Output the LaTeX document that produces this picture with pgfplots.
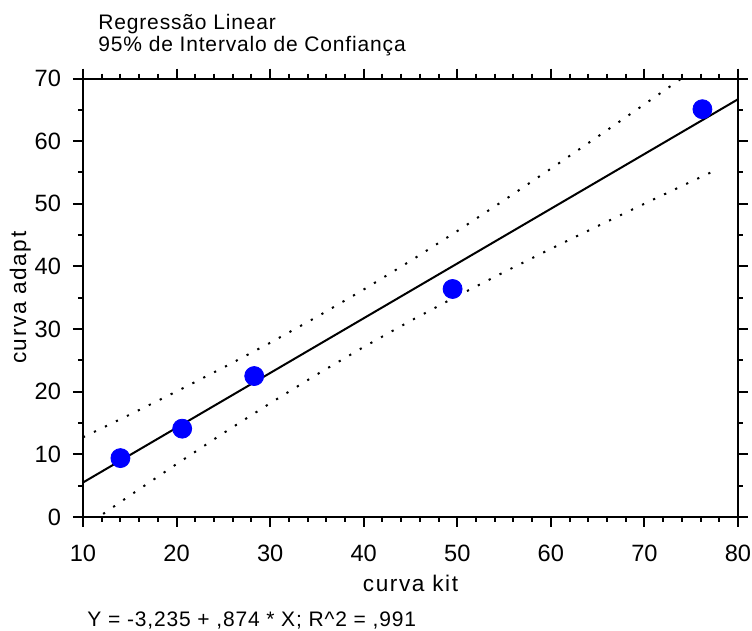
\documentclass[border=0pt]{standalone}
\usepackage{pgfplots}
\pgfplotsset{compat=1.18}
\usepackage{fontspec}
\setmainfont{Liberation Sans}
\newfontfamily\txtfont{Liberation Sans}[LetterSpace=4]
\newfontfamily\labfont{Liberation Sans}[LetterSpace=7]
\definecolor{ptblue}{RGB}{0,0,255}
\begin{document}
\begin{tikzpicture}
\path[use as bounding box] (-41.5pt,-57pt) rectangle (334.5pt,258.5pt);
\begin{axis}[
  at={(0pt,0pt)}, anchor=south west,
  scale only axis, width=327.5pt, height=219.25pt,
  xmin=10, xmax=80, ymin=0, ymax=70,
  xtick={10,20,...,80}, ytick={0,10,...,70},
  minor x tick num=4, minor y tick num=1,
  tick align=outside, tick pos=both,
  xticklabel pos=bottom, yticklabel pos=left,
  major tick length=5pt, minor tick length=2.5pt,
  every tick/.style={black, line width=1pt},
  axis line style={line width=1pt},
  /pgf/number format/assume math mode=true,
  tick label style={font=\fontsize{11.8pt}{14pt}\selectfont},
  xticklabel style={yshift=-5.5pt},
  yticklabel style={xshift=-2.5pt},
  xlabel={curva kit}, ylabel={curva adapt},
  label style={font=\labfont\fontsize{11.3pt}{13pt}\selectfont},
  xlabel style={at={(axis description cs:0.5,-0.171)}, anchor=base},
  ylabel style={at={(axis description cs:-0.087,0.5)}, anchor=base},
  clip=true,
]
% 95% confidence band (upper / lower)
\addplot[black, line width=1pt, dash pattern=on 1.1pt off 5pt] coordinates {
 (10,12.72) (15,16.34) (20,20.04) (25,23.85) (30,27.81) (35,31.95) (40,36.31)
 (45,40.88) (50,45.65) (55,50.57) (60,55.60) (65,60.71) (70,65.88) (75,71.09) (78,74.24)};
\addplot[black, line width=1pt, dash pattern=on 1.1pt off 5pt] coordinates {
 (10,-1.71) (15,3.41) (20,8.45) (25,13.38) (30,18.16) (35,22.76) (40,27.14)
 (45,31.31) (50,35.28) (55,39.10) (60,42.81) (65,46.44) (70,50.01) (75,53.54) (78,55.64)};
% regression line
\addplot[black, line width=1pt] coordinates {(10,5.505) (80,66.685)};
% data points
\addplot[only marks, mark=*, mark size=4.75pt, ptblue, mark options={draw=ptblue, fill=ptblue}] coordinates {
 (14.0,9.4) (20.6,14.1) (28.3,22.5) (49.5,36.4) (76.2,65.1)};
\end{axis}
\node[anchor=base west, inner sep=0pt, font=\txtfont\fontsize{10.5pt}{12pt}\selectfont] at (7.5pt,243.5pt) {Regressão Linear};
\node[anchor=base west, inner sep=0pt, font=\txtfont\fontsize{10.5pt}{12pt}\selectfont] at (7.5pt,232.5pt) {95\% de Intervalo de Confiança};
\node[anchor=base west, inner sep=0pt, font=\txtfont\fontsize{10.5pt}{12pt}\selectfont] at (2pt,-55pt) {Y = -3,235 + ,874 * X; R\textasciicircum 2 = ,991};
\end{tikzpicture}
\end{document}
